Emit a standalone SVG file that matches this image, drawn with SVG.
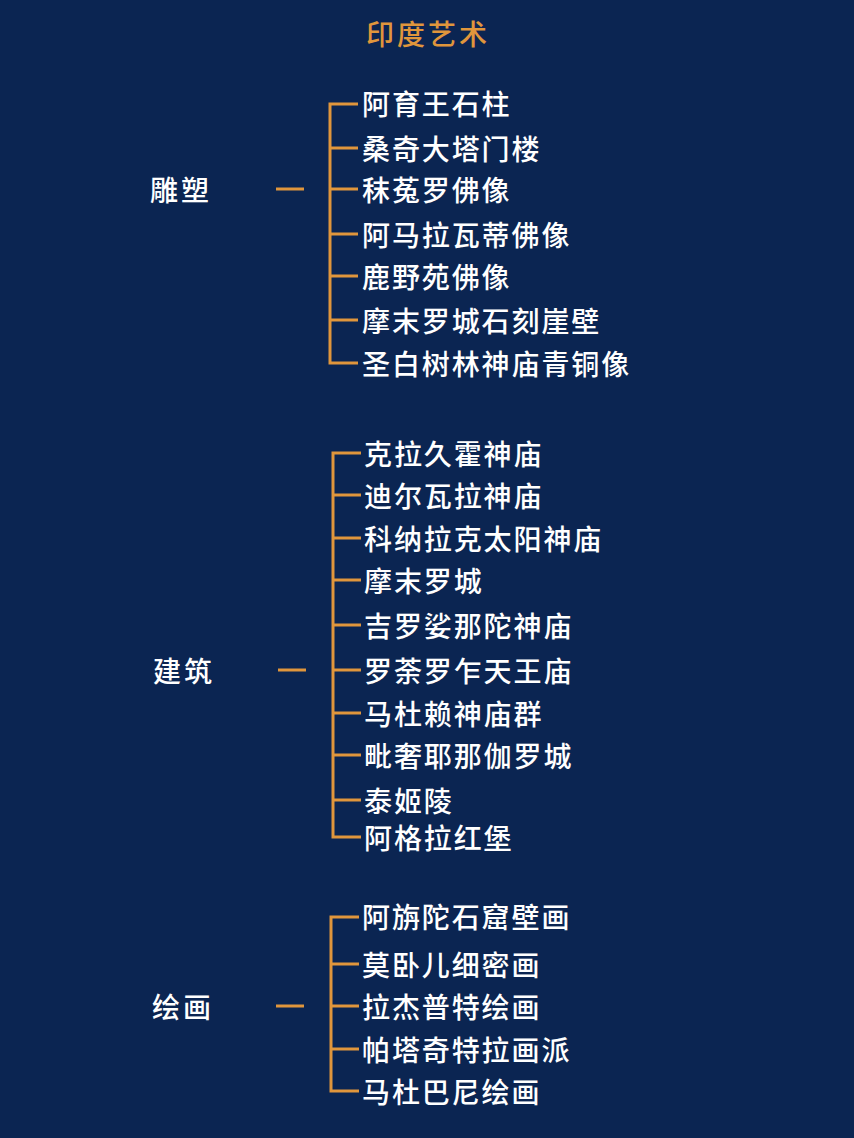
<svg xmlns="http://www.w3.org/2000/svg" width="854" height="1138" viewBox="0 0 854 1138">
<style>
.t{font-family:"Noto Sans CJK SC","Noto Sans",sans-serif;font-size:28px;font-weight:500;fill:#ffffff;letter-spacing:1.9px;dominant-baseline:central}
.lbl{font-family:"Noto Sans CJK SC","Noto Sans",sans-serif;font-size:28px;font-weight:500;fill:#ffffff;letter-spacing:3px;dominant-baseline:central}
.title{font-family:"Noto Sans CJK SC","Noto Sans",sans-serif;font-size:28px;font-weight:500;fill:#e0963c;letter-spacing:3px;dominant-baseline:central}
.ln{stroke:#e0963c;stroke-width:3;fill:none}
</style>
<rect width="854" height="1138" fill="#0b2552"/>
<text class="title" x="366" y="33">印度艺术</text>
<g id="connectors">
<path class="ln" d="M276 189H304"/>
<path class="ln" d="M358 104H330V363H358M330 148H358M330 189H358M330 234H358M330 276H358M330 320H358"/>
<path class="ln" d="M278 670H306"/>
<path class="ln" d="M361 453H333V837H361M333 495H361M333 538H361M333 580H361M333 625H361M333 670H361M333 713H361M333 755H361M333 800H361"/>
<path class="ln" d="M276 1006H304"/>
<path class="ln" d="M359 917H331V1091H359M331 964H359M331 1006H359M331 1049H359"/>
</g>
<g id="sculpture">
<text class="lbl" x="150" y="189">雕塑</text>
<text class="t" x="362" y="103">阿育王石柱</text>
<text class="t" x="362" y="148">桑奇大塔门楼</text>
<text class="t" x="362" y="189">秣菟罗佛像</text>
<text class="t" x="362" y="234">阿马拉瓦蒂佛像</text>
<text class="t" x="362" y="276">鹿野苑佛像</text>
<text class="t" x="362" y="320">摩末罗城石刻崖壁</text>
<text class="t" x="362" y="363">圣白树林神庙青铜像</text>
</g>
<g id="architecture">
<text class="lbl" x="153" y="670">建筑</text>
<text class="t" x="364" y="453">克拉久霍神庙</text>
<text class="t" x="364" y="495">迪尔瓦拉神庙</text>
<text class="t" x="364" y="538">科纳拉克太阳神庙</text>
<text class="t" x="364" y="580">摩末罗城</text>
<text class="t" x="364" y="625">吉罗娑那陀神庙</text>
<text class="t" x="364" y="670">罗荼罗乍天王庙</text>
<text class="t" x="364" y="713">马杜赖神庙群</text>
<text class="t" x="364" y="755">毗奢耶那伽罗城</text>
<text class="t" x="364" y="800">泰姬陵</text>
<text class="t" x="364" y="837">阿格拉红堡</text>
</g>
<g id="painting">
<text class="lbl" x="152" y="1006">绘画</text>
<text class="t" x="362" y="916">阿旃陀石窟壁画</text>
<text class="t" x="362" y="964">莫卧儿细密画</text>
<text class="t" x="362" y="1006">拉杰普特绘画</text>
<text class="t" x="362" y="1049">帕塔奇特拉画派</text>
<text class="t" x="362" y="1091">马杜巴尼绘画</text>
</g>
</svg>
